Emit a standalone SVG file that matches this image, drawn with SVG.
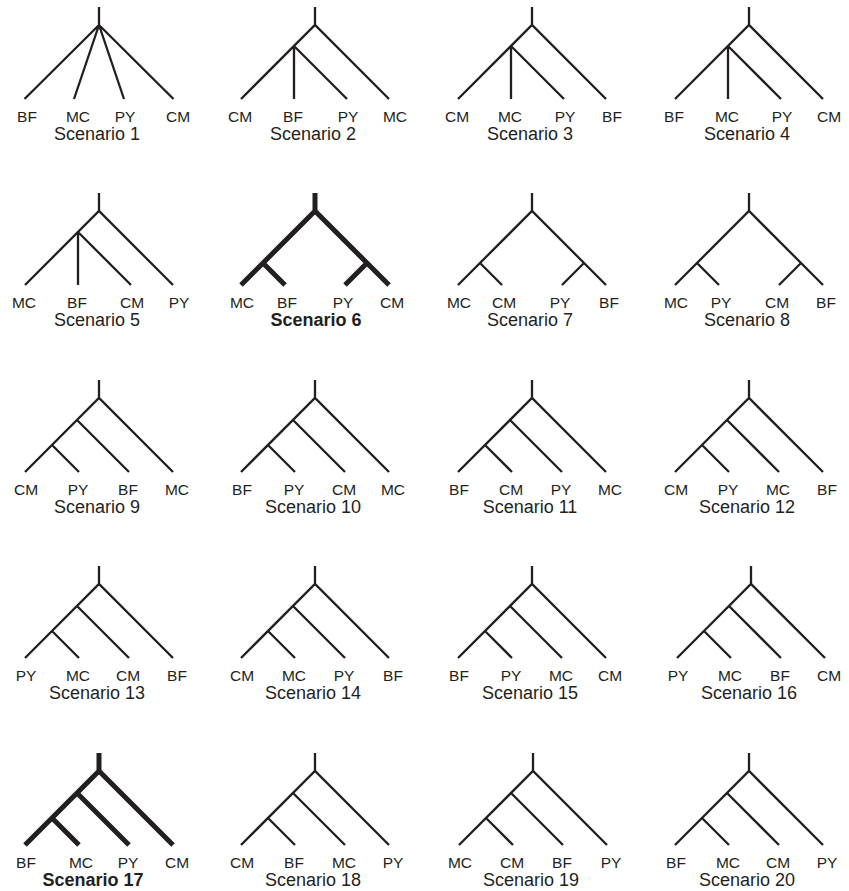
<svg xmlns="http://www.w3.org/2000/svg" xmlns:xlink="http://www.w3.org/1999/xlink" width="849" height="891" viewBox="0 0 849 891">
<style>
.t{fill:none;stroke:#231f20;stroke-width:2.3;stroke-linecap:butt;stroke-linejoin:miter}
.k{stroke-width:5}
.l{font-family:"Liberation Sans",Arial,sans-serif;font-size:15.5px;fill:#231f20;text-anchor:middle}
.s{font-family:"Liberation Sans",Arial,sans-serif;font-size:18px;fill:#231f20;text-anchor:middle}
.b{font-weight:bold}
</style>
<defs>
<path id="A" d="M0,-18V0M0,0L-74.5,74M0,0L-25,74M0,0L25,74M0,0L74.5,74"/>
<path id="B" d="M0,-18V0M-74,74L0,0L74,74M-21,21V74M-21,21L32,74"/>
<path id="C" d="M0,-18V0M-74,74L0,0L74,74M-52,52L-30,74M52,52L30,74"/>
<path id="D" d="M0,-18V0M-74,74L0,0L74,74M-22,22L30,74M-47,47L-20,74"/>
</defs>
<g id="connectors"/>
<!-- Row 1 -->
<g id="s1" transform="translate(99,25)"><use href="#A" class="t"/>
<text class="l" x="-72" y="96.5">BF</text><text class="l" x="-21" y="96.5">MC</text><text class="l" x="26" y="96.5">PY</text><text class="l" x="79" y="96.5">CM</text>
<text class="s" x="-2" y="115">Scenario 1</text></g>
<g id="s2" transform="translate(315,25)"><use href="#B" class="t"/>
<text class="l" x="-75" y="96.5">CM</text><text class="l" x="-22" y="96.5">BF</text><text class="l" x="33" y="96.5">PY</text><text class="l" x="80" y="96.5">MC</text>
<text class="s" x="-2" y="115">Scenario 2</text></g>
<g id="s3" transform="translate(532,25)"><use href="#B" class="t"/>
<text class="l" x="-75" y="96.5">CM</text><text class="l" x="-22" y="96.5">MC</text><text class="l" x="33" y="96.5">PY</text><text class="l" x="80" y="96.5">BF</text>
<text class="s" x="-2" y="115">Scenario 3</text></g>
<g id="s4" transform="translate(749,25)"><use href="#B" class="t"/>
<text class="l" x="-75" y="96.5">BF</text><text class="l" x="-22" y="96.5">MC</text><text class="l" x="33" y="96.5">PY</text><text class="l" x="80" y="96.5">CM</text>
<text class="s" x="-2" y="115">Scenario 4</text></g>
<!-- Row 2 -->
<g id="s5" transform="translate(99,211)"><use href="#B" class="t"/>
<text class="l" x="-75" y="96.5">MC</text><text class="l" x="-22" y="96.5">BF</text><text class="l" x="33" y="96.5">CM</text><text class="l" x="80" y="96.5">PY</text>
<text class="s" x="-2" y="115">Scenario 5</text></g>
<g id="s6" transform="translate(315,211)"><use href="#C" class="t k"/>
<text class="l" x="-73" y="96.5">MC</text><text class="l" x="-28" y="96.5">BF</text><text class="l" x="28" y="96.5">PY</text><text class="l" x="77" y="96.5">CM</text>
<text class="s b" x="1" y="115">Scenario 6</text></g>
<g id="s7" transform="translate(532,211)"><use href="#C" class="t"/>
<text class="l" x="-73" y="96.5">MC</text><text class="l" x="-28" y="96.5">CM</text><text class="l" x="28" y="96.5">PY</text><text class="l" x="77" y="96.5">BF</text>
<text class="s" x="-2" y="115">Scenario 7</text></g>
<g id="s8" transform="translate(749,211)"><use href="#C" class="t"/>
<text class="l" x="-73" y="96.5">MC</text><text class="l" x="-28" y="96.5">PY</text><text class="l" x="28" y="96.5">CM</text><text class="l" x="77" y="96.5">BF</text>
<text class="s" x="-2" y="115">Scenario 8</text></g>
<!-- Row 3 -->
<g id="s9" transform="translate(99,398)"><use href="#D" class="t"/>
<text class="l" x="-73" y="96.5">CM</text><text class="l" x="-21" y="96.5">PY</text><text class="l" x="29" y="96.5">BF</text><text class="l" x="78" y="96.5">MC</text>
<text class="s" x="-2" y="115">Scenario 9</text></g>
<g id="s10" transform="translate(315,398)"><use href="#D" class="t"/>
<text class="l" x="-73" y="96.5">BF</text><text class="l" x="-21" y="96.5">PY</text><text class="l" x="29" y="96.5">CM</text><text class="l" x="78" y="96.5">MC</text>
<text class="s" x="-2" y="115">Scenario 10</text></g>
<g id="s11" transform="translate(532,398)"><use href="#D" class="t"/>
<text class="l" x="-73" y="96.5">BF</text><text class="l" x="-21" y="96.5">CM</text><text class="l" x="29" y="96.5">PY</text><text class="l" x="78" y="96.5">MC</text>
<text class="s" x="-2" y="115">Scenario 11</text></g>
<g id="s12" transform="translate(749,398)"><use href="#D" class="t"/>
<text class="l" x="-73" y="96.5">CM</text><text class="l" x="-21" y="96.5">PY</text><text class="l" x="29" y="96.5">MC</text><text class="l" x="78" y="96.5">BF</text>
<text class="s" x="-2" y="115">Scenario 12</text></g>
<!-- Row 4 -->
<g id="s13" transform="translate(99,584)"><use href="#D" class="t"/>
<text class="l" x="-73" y="96.5">PY</text><text class="l" x="-21" y="96.5">MC</text><text class="l" x="29" y="96.5">CM</text><text class="l" x="78" y="96.5">BF</text>
<text class="s" x="-2" y="115">Scenario 13</text></g>
<g id="s14" transform="translate(315,584)"><use href="#D" class="t"/>
<text class="l" x="-73" y="96.5">CM</text><text class="l" x="-21" y="96.5">MC</text><text class="l" x="29" y="96.5">PY</text><text class="l" x="78" y="96.5">BF</text>
<text class="s" x="-2" y="115">Scenario 14</text></g>
<g id="s15" transform="translate(532,584)"><use href="#D" class="t"/>
<text class="l" x="-73" y="96.5">BF</text><text class="l" x="-21" y="96.5">PY</text><text class="l" x="29" y="96.5">MC</text><text class="l" x="78" y="96.5">CM</text>
<text class="s" x="-2" y="115">Scenario 15</text></g>
<g id="s16" transform="translate(751,584)"><use href="#D" class="t"/>
<text class="l" x="-73" y="96.5">PY</text><text class="l" x="-21" y="96.5">MC</text><text class="l" x="29" y="96.5">BF</text><text class="l" x="78" y="96.5">CM</text>
<text class="s" x="-2" y="115">Scenario 16</text></g>
<!-- Row 5 -->
<g id="s17" transform="translate(99,771)"><use href="#D" class="t k"/>
<text class="l" x="-73" y="96.5">BF</text><text class="l" x="-18" y="96.5">MC</text><text class="l" x="29" y="96.5">PY</text><text class="l" x="78" y="96.5">CM</text>
<text class="s b" x="-6" y="115">Scenario 17</text></g>
<g id="s18" transform="translate(315,771)"><use href="#D" class="t"/>
<text class="l" x="-73" y="96.5">CM</text><text class="l" x="-21" y="96.5">BF</text><text class="l" x="29" y="96.5">MC</text><text class="l" x="78" y="96.5">PY</text>
<text class="s" x="-2" y="115">Scenario 18</text></g>
<g id="s19" transform="translate(533,771)"><use href="#D" class="t"/>
<text class="l" x="-73" y="96.5">MC</text><text class="l" x="-21" y="96.5">CM</text><text class="l" x="29" y="96.5">BF</text><text class="l" x="78" y="96.5">PY</text>
<text class="s" x="-2" y="115">Scenario 19</text></g>
<g id="s20" transform="translate(749,771)"><use href="#D" class="t"/>
<text class="l" x="-73" y="96.5">BF</text><text class="l" x="-21" y="96.5">MC</text><text class="l" x="29" y="96.5">CM</text><text class="l" x="78" y="96.5">PY</text>
<text class="s" x="-2" y="115">Scenario 20</text></g>
</svg>
